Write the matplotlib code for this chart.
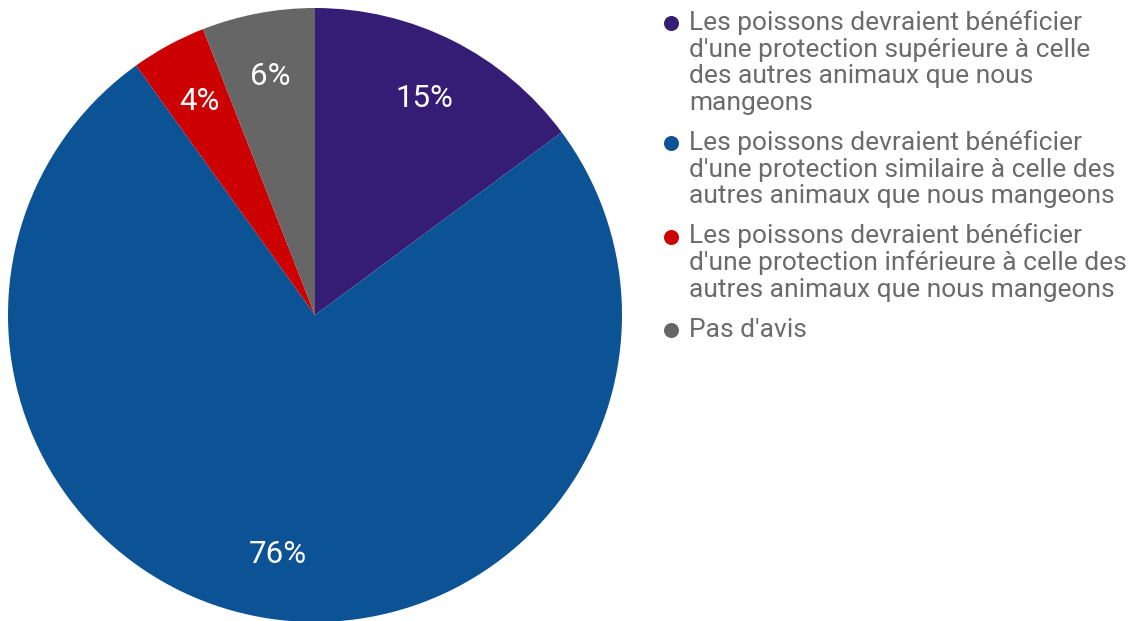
import matplotlib.pyplot as plt

# survey answers, in percent (as published, rounded)
labels = [
    "Les poissons devraient bénéficier\nd'une protection supérieure à celle\ndes autres animaux que nous\nmangeons",
    "Les poissons devraient bénéficier\nd'une protection similaire à celle des\nautres animaux que nous mangeons",
    "Les poissons devraient bénéficier\nd'une protection inférieure à celle des\nautres animaux que nous mangeons",
    "Pas d'avis",
]
values = [15, 76, 4, 6]
colors = ["#351c75", "#0b5394", "#cc0000", "#666666"]

plt.rcParams["font.family"] = ["Roboto", "DejaVu Sans"]

W, H = 1139, 621
fig = plt.figure(figsize=(W / 100, H / 100), dpi=100)

# pie axes: centre (315, 315) px, radius 307 px
cx, cy, r = 315, 315, 307
ax = fig.add_axes([(cx - r) / W, (H - cy - r) / H, 2 * r / W, 2 * r / H])
wedges, texts = ax.pie(values, colors=colors, startangle=90, counterclock=False,
                       labels=[f"{v}%" for v in values], labeldistance=0.79,
                       wedgeprops=dict(linewidth=0),
                       textprops=dict(color="white", fontsize=22.5))
for t in texts:
    t.set_ha("center")
    t.set_va("center")
ax.set_xlim(-1, 1)
ax.set_ylim(-1, 1)
ax.set_aspect("equal")

# legend drawn by hand in pixel coordinates
lg = fig.add_axes([0, 0, 1, 1])
lg.set_xlim(0, W)
lg.set_ylim(H, 0)
lg.axis("off")
line_h = 26.7
gap = 13.3
base = 30
for lab, col in zip(labels, colors):
    lines = lab.split("\n")
    lg.plot(671, base - 7, "o", ms=10.8, color=col, mec="none")
    for i, ln in enumerate(lines):
        lg.text(689, base + i * line_h, ln, fontsize=19, color="#6b6b6b",
                va="baseline", ha="left")
    base += len(lines) * line_h + gap

fig.savefig("out.png", dpi=100)
